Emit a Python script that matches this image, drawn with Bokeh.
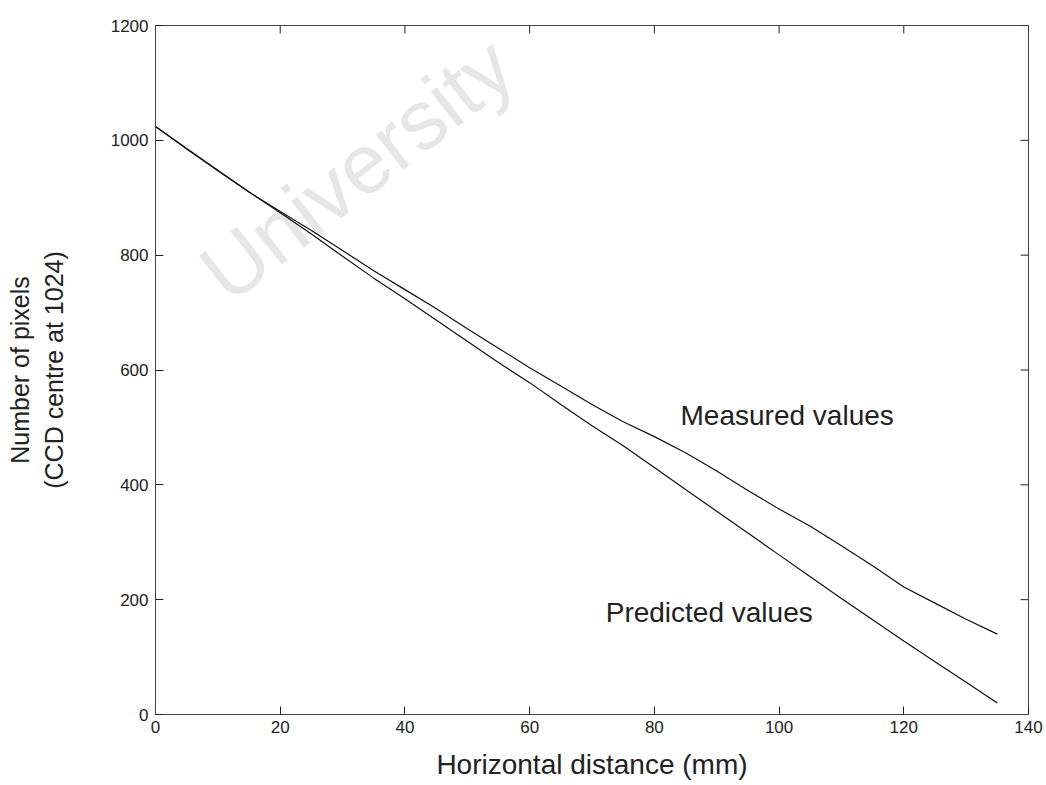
import math
from bokeh.plotting import figure
from bokeh.models import LinearAxis, Label, Range1d, FixedTicker
from bokeh.embed import file_html
from bokeh.resources import INLINE

# Data
distance_mm = [0, 5, 10, 15, 20, 25, 30, 35, 40, 45, 50, 55, 60, 65, 70,
               75, 80, 85, 90, 95, 100, 105, 110, 115, 120, 125, 130, 135]
measured = [1024, 986, 948, 910, 876, 843, 808, 773, 740, 707, 672, 638, 604, 572, 540,
            510, 484, 456, 424, 390, 358, 328, 294, 259, 222, 194, 166, 140]
predicted = [1024, 985, 947, 910, 874, 837, 798, 760, 724, 687, 650, 613, 578, 540, 503,
             468, 430, 392, 354, 316, 278, 240, 202, 165, 128, 92, 56, 20]
x_ticks = [0, 20, 40, 60, 80, 100, 120, 140]
y_ticks = [0, 200, 400, 600, 800, 1000, 1200]
X_MIN, X_MAX = 0, 140
Y_MIN, Y_MAX = 0, 1200

FONT = "Liberation Sans"
AXC = "#444444"
TICK_LEN = 8

p = figure(width=1046, height=785, output_backend="svg", toolbar_location=None,
           x_range=Range1d(X_MIN, X_MAX), y_range=Range1d(Y_MIN, Y_MAX),
           min_border_left=155, min_border_right=18, min_border_top=25, min_border_bottom=71,
           x_axis_location=None, y_axis_location=None)
p.grid.visible = False
p.outline_line_color = AXC
p.outline_line_width = 1
p.background_fill_color = "white"
p.border_fill_color = "white"

def make_axis(ticks, label):
    ax = LinearAxis(ticker=FixedTicker(ticks=ticks))
    ax.major_tick_in = TICK_LEN
    ax.major_tick_out = 0
    ax.minor_tick_line_color = None
    ax.axis_line_color = AXC
    ax.major_tick_line_color = "#222222"
    ax.major_label_text_font = FONT
    ax.major_label_text_color = "#222222"
    ax.major_label_text_font_size = "17px"
    ax.axis_label = label
    ax.axis_label_text_font = FONT
    ax.axis_label_text_font_style = "normal"
    ax.axis_label_text_color = "#222222"
    return ax

xb = make_axis(x_ticks, "Horizontal distance (mm)")
xb.major_label_standoff = 6
xb.axis_label_text_font_size = "28px"
xb.axis_label_standoff = 13
p.add_layout(xb, "below")

yl = make_axis(y_ticks, "Number of pixels\n(CCD centre at 1024)")
yl.major_label_standoff = 7
yl.axis_label_text_font_size = "25px"
yl.axis_label_standoff = 40
p.add_layout(yl, "left")

# Inward ticks on the top and right edges of the box
p.ray(x=x_ticks, y=[Y_MAX] * len(x_ticks), length=TICK_LEN, length_units="screen",
      angle=-math.pi / 2, line_color="#222222", line_width=1)
p.ray(x=[X_MAX] * len(y_ticks), y=y_ticks, length=TICK_LEN, length_units="screen",
      angle=math.pi, line_color="#222222", line_width=1)

# Watermark
p.add_layout(Label(x=9, y=752, text="University", angle=38, angle_units="deg",
                   text_font=FONT, text_font_size="84px", text_color="#e6e6e6",
                   text_align="left", text_baseline="alphabetic", level="underlay"))

p.line(distance_mm, predicted, line_color="#111111", line_width=1.2)
p.line(distance_mm, measured, line_color="#111111", line_width=1.2)

p.add_layout(Label(x=84.2, y=520, text="Measured values", text_font=FONT,
                   text_font_size="28px", text_color="#222222",
                   text_align="left", text_baseline="alphabetic"))
p.add_layout(Label(x=72.2, y=177, text="Predicted values", text_font=FONT,
                   text_font_size="28px", text_color="#222222",
                   text_align="left", text_baseline="alphabetic"))

open("out.html", "w").write(file_html(p, INLINE))
